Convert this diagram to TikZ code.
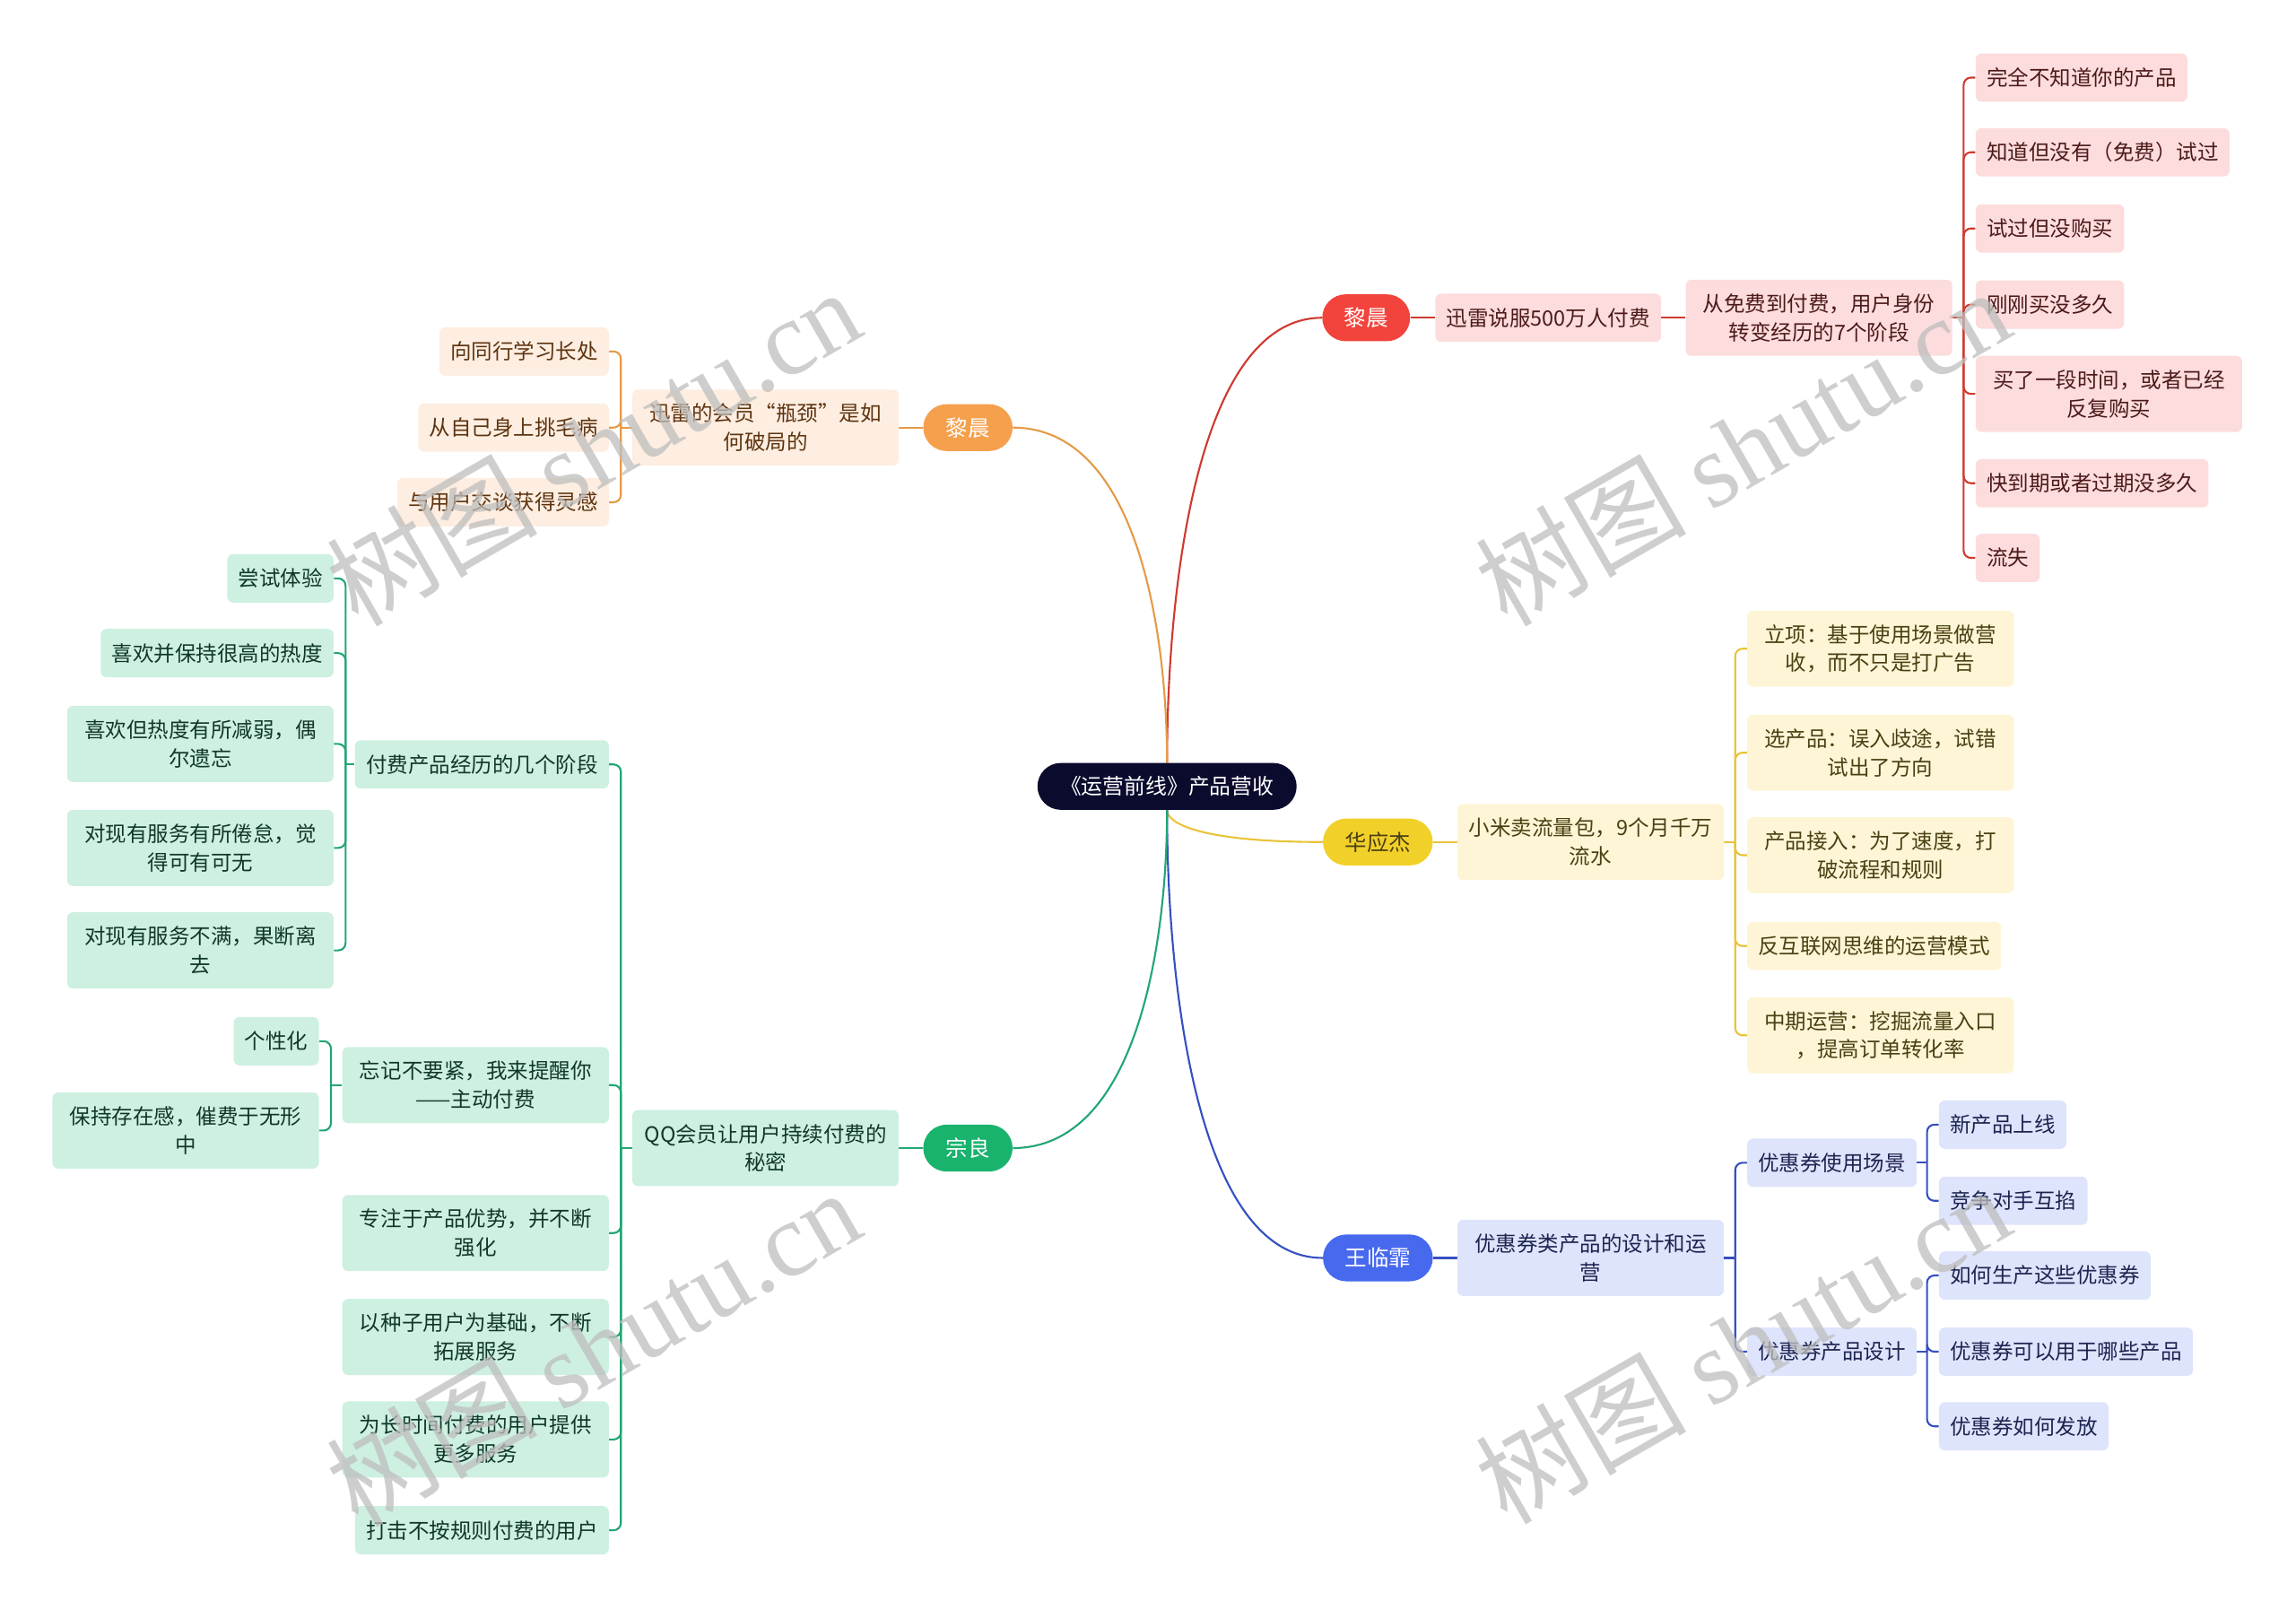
\documentclass[tikz,border=0pt]{standalone}
\usepackage{fontspec}
\setmainfont{Noto Sans CJK SC}
\newfontfamily\wmserif{Liberation Serif}
\usetikzlibrary{calc}
\pgfdeclarelayer{bg}
\pgfsetlayers{bg,main}

\definecolor{rootc}{HTML}{0B0B2E}
\definecolor{redP}{HTML}{F2433C}
\definecolor{redL}{HTML}{FCDCDC}
\definecolor{redT}{HTML}{4D1A1A}
\definecolor{redC}{HTML}{CF3A30}
\definecolor{orP}{HTML}{F5A04C}
\definecolor{orL}{HTML}{FDEEE1}
\definecolor{orT}{HTML}{5E3410}
\definecolor{orC}{HTML}{E59A48}
\definecolor{yeP}{HTML}{F2D02A}
\definecolor{yeL}{HTML}{FDF5D6}
\definecolor{yeT}{HTML}{4A4012}
\definecolor{yeC}{HTML}{E8C43A}
\definecolor{blP}{HTML}{4769EE}
\definecolor{blL}{HTML}{DEE4FB}
\definecolor{blT}{HTML}{1C2550}
\definecolor{blC}{HTML}{3550C0}
\definecolor{grP}{HTML}{19B36D}
\definecolor{grL}{HTML}{CDF0E1}
\definecolor{grT}{HTML}{10382A}
\definecolor{grC}{HTML}{22A673}
\definecolor{wmc}{HTML}{BEBEBE}

\begin{document}
\begin{tikzpicture}[x=1pt,y=-1pt,
  base/.style={rounded corners=4pt, inner xsep=7.5pt, inner ysep=4pt,
    minimum height=33pt, align=center, font=\fontsize{14.4}{19.5}\selectfont},
  two/.style={minimum height=52pt, minimum width=182pt},
  pill/.style={rounded corners=16pt, minimum height=32pt, inner xsep=15pt,
    inner ysep=3pt, text=white, font=\fontsize{15}{18}\selectfont},
  rootbox/.style={rounded corners=16pt, fill=rootc, text=white, minimum height=32pt,
    minimum width=177pt, inner ysep=3pt, font=\fontsize{14.6}{18}\selectfont},
  rbox/.style={base, fill=redL, text=redT},
  obox/.style={base, fill=orL, text=orT},
  ybox/.style={base, fill=yeL, text=yeT},
  bbox/.style={base, fill=blL, text=blT},
  gbox/.style={base, fill=grL, text=grT},
  conn/.style={line width=1.3pt},
  brk/.style={line width=1.3pt, rounded corners=5pt},
  wm/.style={text=wmc, opacity=0.75, rotate=30, font=\fontsize{72}{72}\selectfont, inner sep=0pt}
]
\useasboundingbox (0,0) rectangle (1568,1099);

% root
\node[rootbox] (root) at (797,537) {《运营前线》产品营收};

% red branch
\node[pill, fill=redP, minimum width=60pt] (r1) at (933,217) {黎晨};
\node[rbox, anchor=west] (r2) at (980,217) {迅雷说服500万人付费};
\node[rbox, two, anchor=west] (r3) at (1151,217) {从免费到付费，用户身份\\转变经历的7个阶段};
\node[rbox, anchor=west] (ra) at (1349,53) {完全不知道你的产品};
\node[rbox, anchor=west] (rb) at (1349,104) {知道但没有（免费）试过};
\node[rbox, anchor=west] (rc) at (1349,156) {试过但没购买};
\node[rbox, anchor=west] (rd) at (1349,208) {刚刚买没多久};
\node[rbox, two, anchor=west] (re) at (1349,269) {买了一段时间，或者已经\\反复购买};
\node[rbox, anchor=west] (rf) at (1349,330) {快到期或者过期没多久};
\node[rbox, anchor=west] (rg) at (1349,381) {流失};

% orange branch
\node[pill, fill=orP, minimum width=61pt] (o1) at (661,292) {黎晨};
\node[obox, two, anchor=east] (o2) at (614,292) {迅雷的会员“瓶颈”是如\\何破局的};
\node[obox, anchor=east] (oa) at (416,240) {向同行学习长处};
\node[obox, anchor=east] (ob) at (416,292) {从自己身上挑毛病};
\node[obox, anchor=east] (oc) at (416,343) {与用户交谈获得灵感};

% yellow branch
\node[pill, fill=yeP, text=yeT] (y1) at (941,575) {华应杰};
\node[ybox, two, anchor=west] (y2) at (995,575) {小米卖流量包，9个月千万\\流水};
\node[ybox, two, anchor=west] (ya) at (1193,443) {立项：基于使用场景做营\\收，而不只是打广告};
\node[ybox, two, anchor=west] (yb) at (1193,514) {选产品：误入歧途，试错\\试出了方向};
\node[ybox, two, anchor=west] (yc) at (1193,584) {产品接入：为了速度，打\\破流程和规则};
\node[ybox, anchor=west] (yd) at (1193,646) {反互联网思维的运营模式};
\node[ybox, two, anchor=west] (ye) at (1193,707) {中期运营：挖掘流量入口\\，提高订单转化率};

% blue branch
\node[pill, fill=blP] (b1) at (941,859) {王临霏};
\node[bbox, two, anchor=west] (b2) at (995,859) {优惠券类产品的设计和运\\营};
\node[bbox, anchor=west] (b3) at (1193,794) {优惠券使用场景};
\node[bbox, anchor=west] (b4) at (1193,923) {优惠券产品设计};
\node[bbox, anchor=west] (ba) at (1324,768) {新产品上线};
\node[bbox, anchor=west] (bb) at (1324,820) {竞争对手互掐};
\node[bbox, anchor=west] (bc) at (1324,871) {如何生产这些优惠券};
\node[bbox, anchor=west] (bd) at (1324,923) {优惠券可以用于哪些产品};
\node[bbox, anchor=west] (be) at (1324,974) {优惠券如何发放};

% green branch
\node[pill, fill=grP, minimum width=61pt] (g1) at (661,784) {宗良};
\node[gbox, two, anchor=east] (g2) at (614,784) {QQ会员让用户持续付费的\\秘密};
\node[gbox, anchor=east] (g3) at (416,522) {付费产品经历的几个阶段};
\node[gbox, anchor=east] (g3a) at (228,395) {尝试体验};
\node[gbox, anchor=east] (g3b) at (228,446) {喜欢并保持很高的热度};
\node[gbox, two, anchor=east] (g3c) at (228,508) {喜欢但热度有所减弱，偶\\尔遗忘};
\node[gbox, two, anchor=east] (g3d) at (228,579) {对现有服务有所倦怠，觉\\得可有可无};
\node[gbox, two, anchor=east] (g3e) at (228,649) {对现有服务不满，果断离\\去};
\node[gbox, two, anchor=east] (g4) at (416,741) {忘记不要紧，我来提醒你\\——主动付费};
\node[gbox, anchor=east] (g4a) at (218,711) {个性化};
\node[gbox, two, anchor=east] (g4b) at (218,772) {保持存在感，催费于无形\\中};
\node[gbox, two, anchor=east] (g5) at (416,842) {专注于产品优势，并不断\\强化};
\node[gbox, two, anchor=east] (g6) at (416,913) {以种子用户为基础，不断\\拓展服务};
\node[gbox, two, anchor=east] (g7) at (416,983) {为长时间付费的用户提供\\更多服务};
\node[gbox, anchor=east] (g8) at (416,1045) {打击不按规则付费的用户};

% bracket junction points
\coordinate (jr) at (1341,217);
\coordinate (jo) at (424,292);
\coordinate (jy) at (1185,575);
\coordinate (jb) at (1185,859);
\coordinate (jb3) at (1316,794);
\coordinate (jb4) at (1316,923);
\coordinate (jg) at (424,784);
\coordinate (jg3) at (236,522);
\coordinate (jg4) at (226,741);

\begin{pgfonlayer}{bg}
% main curves
\draw[conn, redC] (root.north) .. controls ($(root.north)!0.4!(root.north |- r1.west)$) and ($(root.north |- r1.west)!0.2!(r1.west)$) .. (r1.west);
\draw[conn, orC] (root.north) .. controls ($(root.north)!0.4!(root.north |- o1.east)$) and ($(root.north |- o1.east)!0.2!(o1.east)$) .. (o1.east);
\draw[conn, yeC] (root.south) .. controls ($(root.south)!0.4!(root.south |- y1.west)$) and ($(root.south |- y1.west)!0.2!(y1.west)$) .. (y1.west);
\draw[conn, blC] (root.south) .. controls ($(root.south)!0.4!(root.south |- b1.west)$) and ($(root.south |- b1.west)!0.2!(b1.west)$) .. (b1.west);
\draw[conn, grC] (root.south) .. controls ($(root.south)!0.4!(root.south |- g1.east)$) and ($(root.south |- g1.east)!0.2!(g1.east)$) .. (g1.east);

% red
\draw[conn, redC] (r1.east) -- (r2.west);
\draw[conn, redC] (r2.east) -- (r3.west);
\draw[conn, redC] (r3.east) -- (jr);
\foreach \n in {ra,rb,rc,rd,re,rf,rg} \draw[brk, redC] (jr) |- (\n.west);

% orange
\draw[conn, orC] (o1.west) -- (o2.east);
\draw[conn, orC] (o2.west) -- (jo);
\foreach \n in {oa,ob,oc} \draw[brk, orC] (jo) |- (\n.east);

% yellow
\draw[conn, yeC] (y1.east) -- (y2.west);
\draw[conn, yeC] (y2.east) -- (jy);
\foreach \n in {ya,yb,yc,yd,ye} \draw[brk, yeC] (jy) |- (\n.west);

% blue
\draw[conn, blC] (b1.east) -- (b2.west);
\draw[conn, blC] (b2.east) -- (jb);
\foreach \n in {b3,b4} \draw[brk, blC] (jb) |- (\n.west);
\draw[conn, blC] (b3.east) -- (jb3);
\foreach \n in {ba,bb} \draw[brk, blC] (jb3) |- (\n.west);
\draw[conn, blC] (b4.east) -- (jb4);
\foreach \n in {bc,bd,be} \draw[brk, blC] (jb4) |- (\n.west);

% green
\draw[conn, grC] (g1.west) -- (g2.east);
\draw[conn, grC] (g2.west) -- (jg);
\foreach \n in {g3,g4,g5,g6,g7,g8} \draw[brk, grC] (jg) |- (\n.east);
\draw[conn, grC] (g3.west) -- (jg3);
\foreach \n in {g3a,g3b,g3c,g3d,g3e} \draw[brk, grC] (jg3) |- (\n.east);
\draw[conn, grC] (g4.west) -- (jg4);
\foreach \n in {g4a,g4b} \draw[brk, grC] (jg4) |- (\n.east);
\end{pgfonlayer}

% watermarks
\node[wm] (w1) at (405,305) {树图 {\wmserif shutu.cn}};
\node[wm] (w2) at (1190,305) {树图 {\wmserif shutu.cn}};
\node[wm] (w3) at (405,920) {树图 {\wmserif shutu.cn}};
\node[wm] (w4) at (1190,918) {树图 {\wmserif shutu.cn}};
\end{tikzpicture}
\end{document}
